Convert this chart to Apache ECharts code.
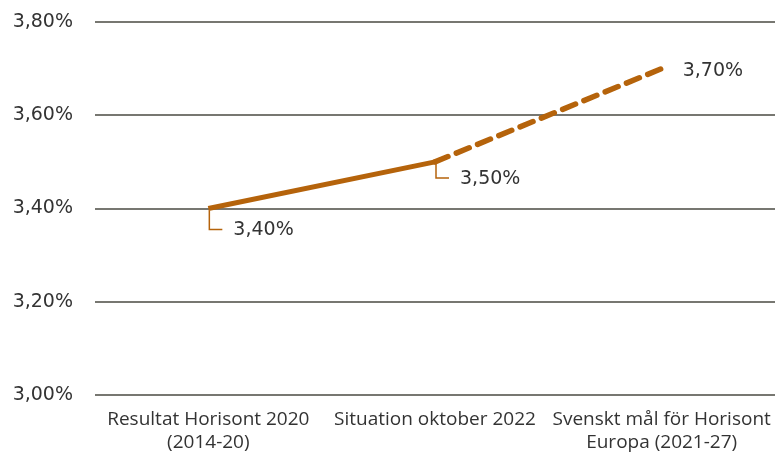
<!DOCTYPE html>
<html>
<head>
<meta charset="utf-8">
<script src="https://cdn.jsdelivr.net/npm/echarts@6/dist/echarts.min.js"></script>
<style>
  html, body { margin: 0; padding: 0; background: #fff; }
  #chart { width: 775px; height: 457px; }
</style>
</head>
<body>
<div id="chart"></div>
<script>
// kategorier och värden
const categories = ['Resultat Horisont 2020\n(2014-20)', 'Situation oktober 2022', 'Svenskt mål för Horisont\nEuropa (2021-27)'];
const actualValues = [3.4, 3.5, null];
const targetValues = [null, 3.5, 3.7];
const labelValues = [3.4, 3.5, 3.7];
const yTicks = { min: 3.0, max: 3.8, step: 0.2 };

const lineColor = '#B5630B';
const textColor = '#333333';
const gridColor = '#4a4a42';
const catFont = 'Open Sans';
const numFont = 'DejaVu Sans';

const fmt = v => v.toFixed(2).replace('.', ',') + '%';

const chart = echarts.init(document.getElementById('chart'));

// hänvisningslinje: nedåt-sträcka per punkt (0 = ingen linje)
const leaderDrop = [19, 14, 0];

const option = {
  animation: false,
  grid: { left: 95, right: 0, top: 22, bottom: 62 },
  xAxis: {
    type: 'category',
    data: categories,
    boundaryGap: true,
    axisLine: { show: false },
    axisTick: { show: false },
    axisLabel: {
      color: textColor,
      fontFamily: catFont,
      fontSize: 19,
      lineHeight: 23,
      margin: 13,
      interval: 0
    }
  },
  yAxis: {
    type: 'value',
    min: yTicks.min,
    max: yTicks.max,
    interval: yTicks.step,
    axisLine: { show: false },
    axisTick: { show: false },
    axisLabel: {
      color: textColor,
      fontFamily: numFont,
      fontSize: 19,
      margin: 22,
      formatter: fmt
    },
    splitLine: { lineStyle: { color: gridColor, width: 1.5 } }
  },
  series: [
    {
      type: 'line',
      data: actualValues,
      symbol: 'none',
      lineStyle: { color: lineColor, width: 5 },
      z: 3
    },
    {
      type: 'line',
      data: targetValues,
      symbol: 'none',
      lineStyle: { color: lineColor, width: 5.5, type: [14, 9], cap: 'round' },
      z: 3
    },
    {
      type: 'custom',
      data: labelValues.map((v, i) => [i, v]),
      renderItem: function (params, api) {
        const pt = api.coord([api.value(0), api.value(1)]);
        const drop = leaderDrop[params.dataIndex];
        const children = [];
        const textStyle = {
          text: fmt(api.value(1)),
          fill: textColor,
          font: '19px "' + numFont + '"',
          verticalAlign: 'middle'
        };
        if (drop > 0) {
          const x = pt[0] + 1, y = pt[1] + 2;
          children.push({
            type: 'polyline',
            shape: { points: [[x, y], [x, y + drop], [x + 13, y + drop]] },
            style: { stroke: lineColor, lineWidth: 1.5, fill: null }
          });
          children.push({ type: 'text', x: x + 24, y: y + drop + 1, style: textStyle });
        } else {
          children.push({ type: 'text', x: pt[0] + 21, y: pt[1] + 2, style: textStyle });
        }
        return { type: 'group', children: children };
      },
      z: 2
    }
  ]
};

chart.setOption(option);
</script>
</body>
</html>
